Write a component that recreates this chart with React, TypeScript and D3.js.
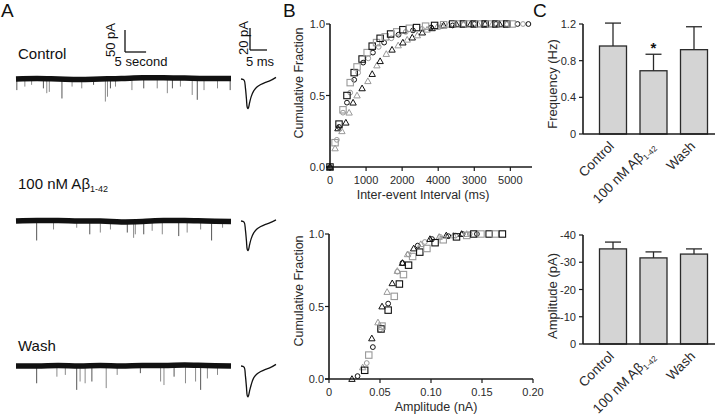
import React from "react";
import * as d3 from "d3";

const FONT = "'Liberation Sans', Arial, Helvetica, sans-serif";
const INK = "#1a1a1a";
const TXT = "#2a2a2a";

// ---------------- Panel A data ----------------
// spontaneous events: [time (s), amplitude (pA)]
const ctrlEvents: [number, number][] = [[0.2,-23],[2.1,-15],[3.7,-11],[6.5,-19],[7.3,-30],[7.9,-27],[10.9,-42],[13.3,-15],[15.6,-19],[18.4,-11],[21.2,-49],[21.7,-38],[22.4,-19],[23.6,-15],[27.5,-23],[30.3,-19],[33.5,-19],[35.9,-30],[37.1,-19],[39.0,-15],[41.8,-34],[43.0,-45],[44.6,-23],[47.8,-19],[50.8,-23]];
const abetaEvents: [number, number][] = [[4.9,-42],[8.9,-17],[14.4,-13],[17.5,-28],[20.0,-24],[22.4,-17],[26.4,-24],[27.9,-36],[28.3,-28],[30.3,-28],[32.3,-20],[34.7,-28],[38.6,-32],[40.6,-24],[43.8,-17],[46.4,-42],[49.0,-13]];
const washEvents: [number, number][] = [[4.9,-37],[9.7,-22],[11.7,-18],[14.4,-52],[15.2,-33],[16.4,-37],[18.0,-33],[21.4,-48],[24.0,-18],[29.5,-14],[34.3,-33],[35.1,-41],[37.5,-22],[40.2,-37],[42.6,-33],[43.8,-52],[45.4,-26],[47.8,-18]];
// slow baseline drift: [time (s)] and level (pA)
const driftTimes = [0, 5, 10, 15, 20, 25, 30, 35, 40, 45, 51];
const ctrlDrift = [0, 1, 0, -1, 0, 1, 3, 3, 2, 1, 1];
const abetaDrift = [0, 1, 1, 0, 0, -2, -1, 1, 1, 0, -1];
const washDrift = [0, 0, 1, 0, 1, 0, 1, 1, 2, 1, 0];
// averaged event: [time (ms), current (pA)]
const ctrlAvg: [number, number][] = [[0,0],[0.9,-1],[1.3,-8],[1.6,-18],[1.85,-26],[2.1,-27],[2.5,-22],[3.0,-16],[3.7,-11],[4.6,-7.5],[5.8,-5],[7.2,-3],[8.6,-1.5],[10.3,1.5]];
const abetaAvg: [number, number][] = [[0,0],[0.9,-1],[1.3,-8],[1.6,-18],[1.85,-26],[2.1,-27],[2.5,-22],[3.0,-16],[3.7,-11],[4.6,-7.5],[5.8,-5],[7.2,-3],[8.6,-1.5],[10.3,1]];
const washAvg: [number, number][] = [[0,0],[0.9,-1],[1.3,-9],[1.6,-19],[1.85,-27],[2.1,-28],[2.5,-23],[3.0,-17],[3.7,-11],[4.6,-7.5],[5.8,-5],[7.2,-3],[8.6,-1.5],[10.3,1.5]];

// ---------------- Panel B data ----------------
// inter-event interval cumulative: [ms, fraction]
const ctrlInterval: [number, number][] = [[0,0],[140,0.17],[250,0.30],[360,0.40],[470,0.50],[560,0.59],[670,0.66],[750,0.70],[890,0.755],[1030,0.80],[1170,0.845],[1290,0.87],[1390,0.90],[1530,0.91],[1680,0.93],[1850,0.945],[2020,0.96],[2200,0.97],[2400,0.975],[2650,0.985],[2900,0.99],[3150,0.995],[3400,1],[3550,1],[3700,1],[3850,1],[4000,1],[4150,1],[4300,1],[4450,1],[4600,1],[4750,1],[4900,1],[5050,1]];
const abetaInterval: [number, number][] = [[0,0],[140,0.13],[220,0.27],[330,0.25],[440,0.31],[530,0.38],[640,0.45],[750,0.50],[890,0.55],[1050,0.60],[1170,0.65],[1300,0.71],[1390,0.74],[1560,0.79],[1720,0.82],[1890,0.85],[2020,0.87],[2140,0.89],[2280,0.905],[2420,0.92],[2560,0.94],[2690,0.96],[2830,0.97],[2970,0.98],[3150,0.99],[3300,0.995],[3500,1],[3700,1],[3900,1],[4100,1],[4300,1],[4500,1],[4700,1],[4900,1]];
const washInterval: [number, number][] = [[0,0],[190,0.19],[250,0.28],[360,0.38],[470,0.45],[560,0.52],[670,0.61],[780,0.66],[920,0.73],[1060,0.76],[1190,0.80],[1350,0.84],[1500,0.87],[1700,0.90],[1900,0.925],[2100,0.945],[2300,0.955],[2550,0.965],[2800,0.975],[3100,0.985],[3400,0.99],[3700,0.995],[4000,1],[4300,1],[4600,1],[4900,1],[5200,1],[5350,1],[5500,1]];
const intervalTicks = [0, 1000, 2000, 3000, 4000, 5000];
const intervalTickLabels = ["0", "1000", "2000", "4000", "3000", "5000"];

// amplitude cumulative: [nA, fraction]
const ctrlAmp: [number, number][] = [[0.035,0.06],[0.039,0.165],[0.051,0.345],[0.052,0.365],[0.058,0.475],[0.064,0.57],[0.069,0.655],[0.073,0.72],[0.078,0.785],[0.082,0.845],[0.089,0.875],[0.096,0.90],[0.104,0.94],[0.112,0.96],[0.125,0.98],[0.135,0.99],[0.142,1],[0.149,1],[0.157,1],[0.163,1],[0.170,1]];
const abetaAmp: [number, number][] = [[0.0225,0],[0.033,0.08],[0.042,0.28],[0.048,0.39],[0.052,0.50],[0.057,0.60],[0.062,0.66],[0.067,0.745],[0.072,0.80],[0.077,0.86],[0.083,0.90],[0.090,0.93],[0.099,0.965],[0.108,0.98],[0.115,0.99],[0.122,0.99],[0.130,1],[0.135,1]];
const washAmp: [number, number][] = [[0.028,0.02],[0.037,0.11],[0.043,0.22],[0.050,0.34],[0.058,0.52],[0.067,0.74],[0.072,0.80],[0.078,0.86],[0.087,0.92],[0.094,0.945],[0.101,0.965],[0.109,0.98],[0.117,0.985],[0.124,0.99],[0.131,1],[0.138,1],[0.145,1]];
const ampTicks = [0, 0.05, 0.1, 0.15, 0.2];
const ampTickLabels = ["0", "0.05", "0.10", "0.15", "0.20"];
const fracTicks = [0, 0.5, 1];
const fracTickLabels = ["0.0", "0.5", "1.0"];

// ---------------- Panel C data ----------------
const groups = ["Control", "Abeta", "Wash"];
const freqMean = [0.96, 0.69, 0.92];
const freqSem = [0.25, 0.18, 0.25];
const freqTicks = [0, 0.4, 0.8, 1.2];
const freqTickLabels = ["0", "0.4", "0.8", "1.2"];
const ampMean = [-34.9, -31.6, -33.0];
const ampSem = [-2.5, -2.2, -1.9];
const ampPTicks = [0, -10, -20, -30, -40];
const ampPTickLabels = ["0", "-10", "-20", "-30", "-40"];

// ---------------- scales ----------------
const traceX = d3.scaleLinear().domain([0, 51]).range([16, 231]);
const avgX = d3.scaleLinear().domain([0, 10.3]).range([241, 276]);

const ivX = d3.scaleLinear().domain([0, 5600]).range([330, 532]);
const ivY = d3.scaleLinear().domain([0, 1]).range([167, 24]);
const amX = d3.scaleLinear().domain([0, 0.2]).range([329, 533]);
const amY = d3.scaleLinear().domain([0, 1]).range([379, 234]);

const band = d3.scaleBand<string>().domain(groups).range([586, 721]).paddingInner(1 / 3).paddingOuter(1 / 3);
const freqY = d3.scaleLinear().domain([0, 1.2]).range([134, 24]);
const ampPY = d3.scaleLinear().domain([0, -40]).range([344, 235]);

function Trace({ y0, events, drift, avg }: { y0: number; events: [number, number][]; drift: number[]; avg: [number, number][] }) {
  const y = d3.scaleLinear().domain([0, -50]).range([y0, y0 + 22]);
  const base = d3.scaleLinear().domain(driftTimes).range(drift.map((d) => y0 - d * 0.44));
  const driftLine = d3.line<number>().x((t) => traceX(t)).y((t) => base(t)).curve(d3.curveMonotoneX);
  const ay = d3.scaleLinear().domain([0, -20]).range([y0, y0 + 22]);
  const avgLine = d3.line<[number, number]>().x((d) => avgX(d[0])).y((d) => ay(d[1])).curve(d3.curveCatmullRom);
  return (
    <g>
      {events.map(([t, a], i) => (
        <line key={i} x1={traceX(t)} x2={traceX(t)} y1={base(t)} y2={y(a) + 1} stroke={i % 3 === 0 ? "#555" : "#8a8a8a"} strokeWidth={1} />
      ))}
      <path d={driftLine(driftTimes) || ""} fill="none" stroke="#111" strokeWidth={5.5} />
      <path d={avgLine(avg) || ""} fill="none" stroke="#111" strokeWidth={1.3} />
    </g>
  );
}

function Marker({ shape, x, y, color }: { shape: string; x: number; y: number; color: string }) {
  if (shape === "square") return <rect x={x - 3.2} y={y - 3.2} width={6.4} height={6.4} fill="none" stroke={color} strokeWidth={1.1} />;
  if (shape === "triangle") return <path d={`M${x},${y - 3.3}L${x + 3.2},${y + 2.4}L${x - 3.2},${y + 2.4}Z`} fill="none" stroke={color} strokeWidth={1} />;
  return <circle cx={x} cy={y} r={2.4} fill="none" stroke={color} strokeWidth={1} />;
}

function Series({ data, shape, sx, sy }: { data: [number, number][]; shape: string; sx: (v: number) => number; sy: (v: number) => number }) {
  return (
    <g>
      {data.map(([v, f], i) => (
        <Marker key={i} shape={shape} x={sx(v)} y={sy(f)} color={i % 2 === 0 ? "#111" : "#999"} />
      ))}
    </g>
  );
}

function CumAxes({ sx, sy, xTicks, xLabels, title, titleX, titleY, yTitleCenter }: any) {
  const [x0, x1] = sx.range();
  const [yb, yt] = sy.range();
  return (
    <g fontFamily={FONT} fill={TXT}>
      <line x1={x0} x2={x0} y1={yb} y2={yt} stroke={INK} strokeWidth={1.6} />
      <line x1={x0 - 4} x2={x1} y1={yb} y2={yb} stroke={INK} strokeWidth={1.6} />
      {fracTicks.map((t, i) => (
        <g key={i}>
          <line x1={x0 - 4} x2={x0} y1={sy(t)} y2={sy(t)} stroke={INK} strokeWidth={1.2} />
          <text x={x0 - 5} y={sy(t) + 4} textAnchor="end" fontSize={11}>{fracTickLabels[i]}</text>
        </g>
      ))}
      {xTicks.map((t: number, i: number) => (
        <g key={i}>
          <line x1={sx(t)} x2={sx(t)} y1={yb} y2={yb + 4} stroke={INK} strokeWidth={1.2} />
          <text x={sx(t)} y={yb + 17} textAnchor="middle" fontSize={11}>{xLabels[i]}</text>
        </g>
      ))}
      <text x={titleX} y={titleY} textAnchor="middle" fontSize={12.5}>{title}</text>
      <text transform={`translate(303,${yTitleCenter}) rotate(-90)`} textAnchor="middle" fontSize={12.5}>Cumulative Fraction</text>
    </g>
  );
}

function GroupLabels({ y }: { y: number }) {
  const names: React.ReactNode[] = [
    "Control",
    <>100 nM Aβ<tspan fontSize={8} dy={3}>1-42</tspan></>,
    "Wash",
  ];
  return (
    <g fontFamily={FONT} fill={TXT} fontSize={13.5}>
      {groups.map((g, i) => (
        <text key={g} transform={`translate(${(band(g) as number) + band.bandwidth() / 2 + 2},${y}) rotate(-45)`} textAnchor="end">
          {names[i]}
        </text>
      ))}
    </g>
  );
}

function BarPanel({ sy, means, sems, ticks, tickLabels, title, titleY, star }: any) {
  const yb = sy.range()[0];
  const yt = sy.range()[1];
  return (
    <g fontFamily={FONT} fill={TXT}>
      {groups.map((g, i) => {
        const x = band(g) as number;
        const cx = x + band.bandwidth() / 2;
        const top = sy(means[i]);
        const et = sy(means[i] + sems[i]);
        return (
          <g key={g}>
            <rect x={x} y={top} width={band.bandwidth()} height={yb - top} fill="#d4d4d4" stroke="#2a2a2a" strokeWidth={1.3} />
            <line x1={cx} x2={cx} y1={top} y2={et} stroke="#2a2a2a" strokeWidth={1.3} />
            <line x1={cx - 8} x2={cx + 8} y1={et} y2={et} stroke="#2a2a2a" strokeWidth={1.3} />
            {star && i === 1 && (
              <text x={cx} y={et - 1} textAnchor="middle" fontSize={15} fontWeight="bold" fill="#111">*</text>
            )}
          </g>
        );
      })}
      <line x1={583} x2={583} y1={yb} y2={yt} stroke={INK} strokeWidth={1.6} />
      <line x1={583} x2={715} y1={yb} y2={yb} stroke={INK} strokeWidth={1.6} />
      {ticks.map((t: number, i: number) => (
        <g key={i}>
          <line x1={579} x2={583} y1={sy(t)} y2={sy(t)} stroke={INK} strokeWidth={1.2} />
          <text x={576} y={sy(t) + 4} textAnchor="end" fontSize={11}>{tickLabels[i]}</text>
        </g>
      ))}
      <text transform={`translate(557,${titleY}) rotate(-90)`} textAnchor="middle" fontSize={13}>{title}</text>
    </g>
  );
}

export default function App() {
  return (
    <svg width={720} height={415} viewBox="0 0 720 415" style={{ position: "absolute", left: 0, top: 0, background: "#fff" }}>
      <rect width={720} height={415} fill="#fff" />
      {/* Panel letters */}
      <g fontFamily={FONT} fontSize={19} fill="#111">
        <text x={1} y={17}>A</text>
        <text x={283} y={17}>B</text>
        <text x={533} y={17}>C</text>
      </g>

      {/* Panel A */}
      <g fontFamily={FONT} fill="#111">
        <text x={18} y={59} fontSize={15}>Control</text>
        <text x={18} y={189} fontSize={15}>100 nM Aβ<tspan fontSize={9} dy={3}>1-42</tspan></text>
        <text x={18} y={351} fontSize={15}>Wash</text>
        {/* scale bars */}
        <line x1={125} x2={125} y1={52} y2={52 - 22} stroke="#111" strokeWidth={1.3} />
        <line x1={125} x2={125 + traceX(5) - traceX(0)} y1={52} y2={52} stroke="#111" strokeWidth={1.3} />
        <text transform="translate(115,40) rotate(-90)" textAnchor="middle" fontSize={13}>50 pA</text>
        <text x={141} y={66} textAnchor="middle" fontSize={13}>5 second</text>
        <line x1={250} x2={250} y1={50} y2={28} stroke="#111" strokeWidth={1.3} />
        <line x1={250} x2={250 + avgX(5) - avgX(0)} y1={50} y2={50} stroke="#111" strokeWidth={1.3} />
        <text transform="translate(248,38) rotate(-90)" textAnchor="middle" fontSize={13}>20 pA</text>
        <text x={260} y={66} textAnchor="middle" fontSize={13}>5 ms</text>
      </g>
      <Trace y0={79} events={ctrlEvents} drift={ctrlDrift} avg={ctrlAvg} />
      <Trace y0={221} events={abetaEvents} drift={abetaDrift} avg={abetaAvg} />
      <Trace y0={366} events={washEvents} drift={washDrift} avg={washAvg} />

      {/* Panel B top */}
      <CumAxes sx={ivX} sy={ivY} xTicks={intervalTicks} xLabels={intervalTickLabels} title="Inter-event Interval (ms)" titleX={423} titleY={199} yTitleCenter={83} />
      <Series data={washInterval} shape="circle" sx={ivX} sy={ivY} />
      <Series data={abetaInterval} shape="triangle" sx={ivX} sy={ivY} />
      <Series data={ctrlInterval} shape="square" sx={ivX} sy={ivY} />

      {/* Panel B bottom */}
      <CumAxes sx={amX} sy={amY} xTicks={ampTicks} xLabels={ampTickLabels} title="Amplitude (nA)" titleX={436} titleY={411} yTitleCenter={291} />
      <Series data={washAmp} shape="circle" sx={amX} sy={amY} />
      <Series data={abetaAmp} shape="triangle" sx={amX} sy={amY} />
      <Series data={ctrlAmp} shape="square" sx={amX} sy={amY} />

      {/* Panel C */}
      <BarPanel sy={freqY} means={freqMean} sems={freqSem} ticks={freqTicks} tickLabels={freqTickLabels} title="Frequency (Hz)" titleY={84} star />
      <GroupLabels y={147} />
      <BarPanel sy={ampPY} means={ampMean} sems={ampSem} ticks={ampPTicks} tickLabels={ampPTickLabels} title="Amplitude (pA)" titleY={296} />
      <GroupLabels y={357} />
    </svg>
  );
}
